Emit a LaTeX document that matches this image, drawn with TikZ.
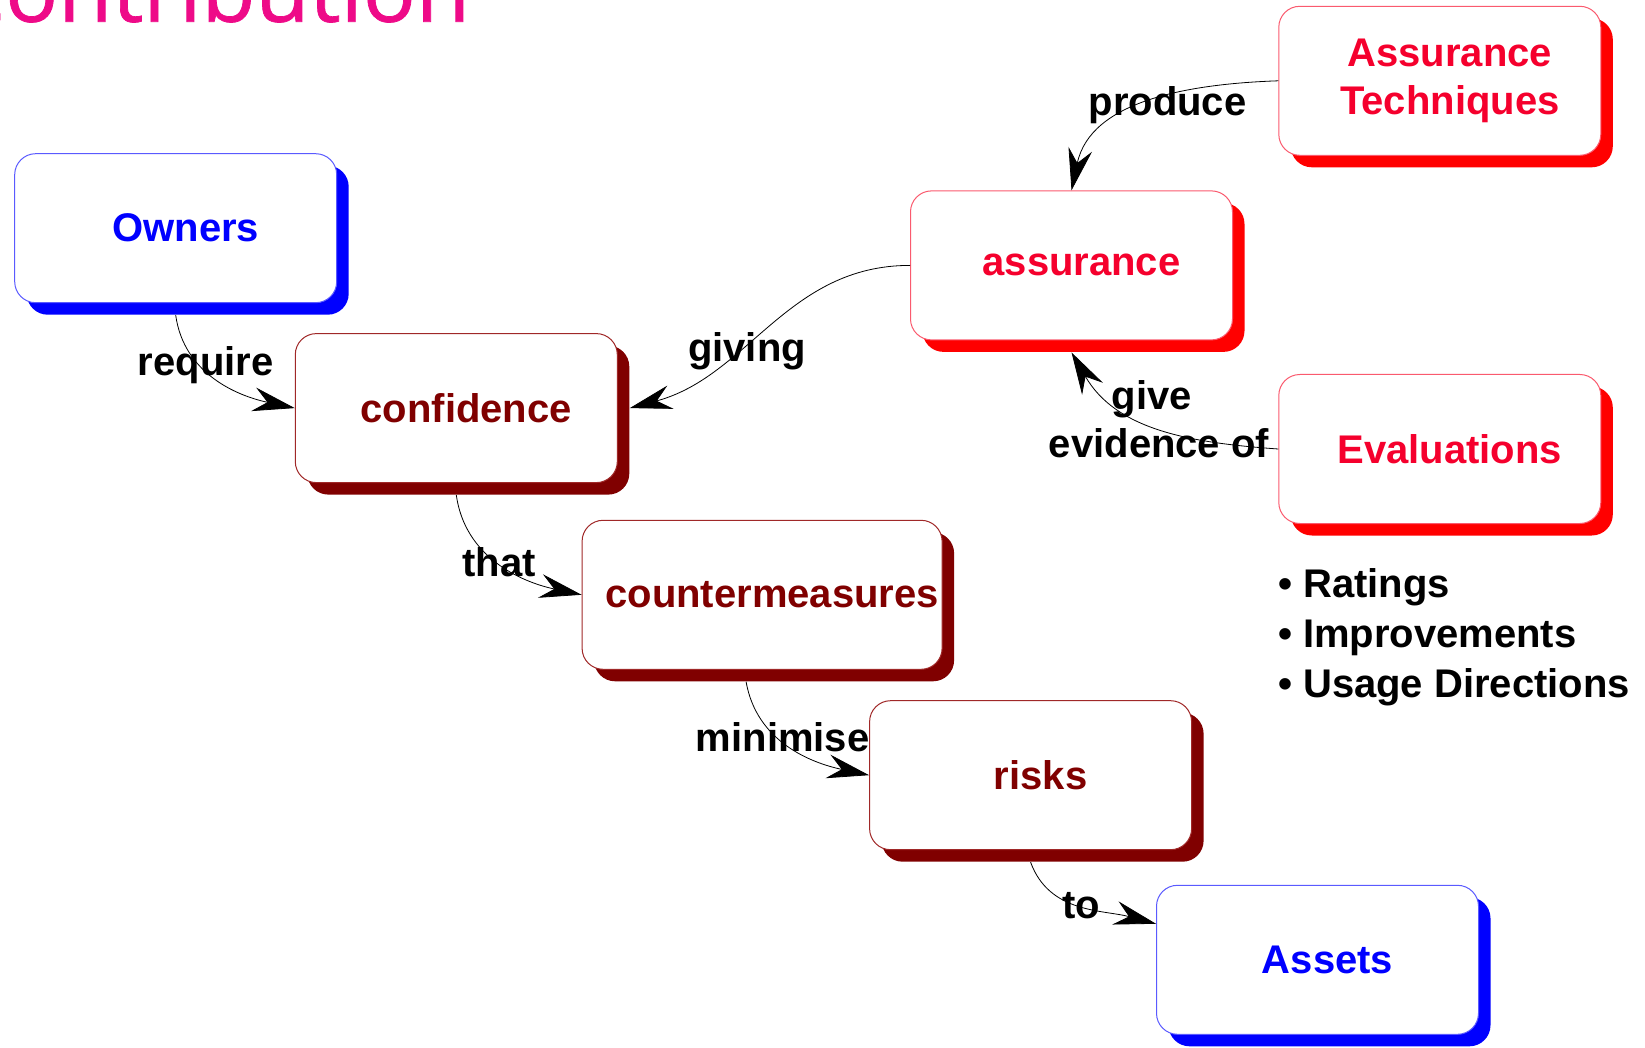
\documentclass[tikz,border=0pt]{standalone}
\usepackage{fontspec}
\setmainfont{Liberation Sans}
\newfontfamily\titlefont[FakeBold=0.8]{Open Sans}
\usetikzlibrary{arrows.meta,shadows}

\definecolor{ownblue}{RGB}{0,0,255}
\definecolor{lineblue}{RGB}{90,90,255}
\definecolor{darkred}{RGB}{128,0,0}
\definecolor{linemaroon}{RGB}{160,40,40}
\definecolor{brightred}{RGB}{255,0,0}
\definecolor{textred}{RGB}{245,0,45}
\definecolor{linered}{RGB}{250,90,110}
\definecolor{titlepink}{RGB}{238,10,136}

\tikzset{
  box/.style={rectangle, rounded corners=10.5pt, fill=white, line width=0.5pt,
    minimum width=161pt, minimum height=74.5pt, align=center,
    font=\fontsize{20}{24}\selectfont\bfseries,
    execute at begin node={\hspace*{10pt}}},
  bluebox/.style={box, draw=lineblue, text=ownblue,
    drop shadow={shadow xshift=6pt, shadow yshift=-6pt, fill=ownblue, draw=none, opacity=1}},
  maroonbox/.style={box, draw=linemaroon, text=darkred,
    drop shadow={shadow xshift=6pt, shadow yshift=-6pt, fill=darkred, draw=none, opacity=1}},
  redbox/.style={box, draw=linered, text=textred,
    drop shadow={shadow xshift=6pt, shadow yshift=-6pt, fill=brightred, draw=none, opacity=1}},
  rel/.style={font=\fontsize{20}{24}\selectfont\bfseries, align=center},
  link/.style={-{Stealth[length=21pt,width=12pt,inset=7pt]}, line width=0.4pt}
}

\begin{document}
\begin{tikzpicture}[x=0.5pt,y=0.5pt]
    \useasboundingbox (0,0) rectangle (1645,-1048);

    \node [text=titlepink, font=\titlefont\fontsize{44}{48}\selectfont, anchor=base east] (title) at (477,-21.7) {Contribution};

    % the chain on the left
    \node [bluebox] (own) at (175.7,-228.2) {Owners};
    \node [maroonbox] (conf) at (456.3,-408.1) {confidence};
    \node [maroonbox, minimum width=180pt, inner xsep=1pt] (cm) at (762.1,-594.8) {countermeasures};
    \node [maroonbox] (risk) at (1030.6,-775.2) {risks};
    \node [bluebox] (ast) at (1317.5,-959.8) {Assets};

    % the assurance side
    \node [redbox] (asr) at (1071.5,-265.4) {assurance};
    \node [redbox] (tech) at (1439.8,-80.8) {Assurance\\Techniques};
    \node [redbox] (eval) at (1439.8,-449) {Evaluations};

    \draw [link] ([yshift=-6pt]own.south) to[out=-82, in=168] (conf.west);
    \draw [link] ([yshift=-6pt]conf.south) to[out=-82, in=168] (cm.west);
    \draw [link] ([xshift=-8pt,yshift=-6pt]cm.south) to[out=-80, in=168] (risk.west);
    \draw [link] ([yshift=-6pt]risk.south) to[out=-70, in=165] ([yshift=18pt]ast.west);
    \draw [link] (asr.west) to[out=180, in=15] ([xshift=6pt]conf.east);
    \draw [link] (tech.west) to[out=182, in=78] (asr.north);
    \draw [link] (eval.west) to[out=176, in=-60] ([yshift=-6pt]asr.south);

    \node [rel] (req) at (205.6,-365) {require};
    \node [rel] (tht) at (499.3,-562.3) {that};
    \node [rel] (mnm) at (782.6,-737.5) {minimise};
    \node [rel] (too) at (1081.5,-905.3) {to};
    \node [rel] (giv) at (747,-351.4) {giving};
    \node [rel] (prd) at (1167.5,-104.9) {produce};
    \node [rel] (gev) at (1159,-419.6) {give\hspace*{7pt}\\evidence of};

    \node [rel, anchor=west] (rat) at (1271,-587.2) {• Ratings};
    \node [rel, anchor=west] (imp) at (1271,-637.6) {• Improvements};
    \node [rel, anchor=west] (use) at (1271,-686.9) {• Usage Directions};
\end{tikzpicture}
\end{document}
